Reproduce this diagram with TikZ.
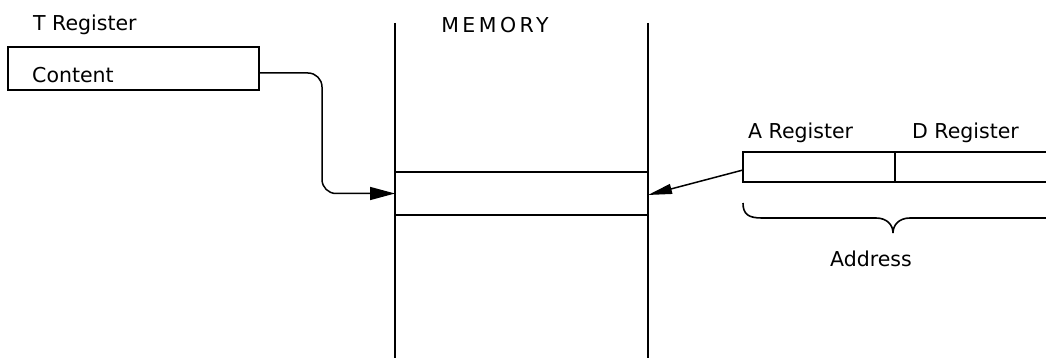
\documentclass[tikz,border=0pt]{standalone}
\usepackage{fontspec}
\setmainfont{DejaVu Sans}
\usetikzlibrary{arrows.meta}
\tikzset{
  lbl/.style={inner sep=0pt, font=\fontsize{20.5}{24}\selectfont, anchor=base west},
  boxline/.style={line width=1.6pt},
  regbox/.style={boxline, draw, inner sep=0pt, outer sep=0pt, anchor=north west},
  conn/.style={line width=1.5pt},
}
\begin{document}
\begin{tikzpicture}[x=1pt,y=-1pt]
\useasboundingbox (0,0) rectangle (1046,358);
% T register
\node[lbl] (tlabel) at (33,31) {T Register};
\node[regbox, minimum width=251pt, minimum height=43pt] (tbox) at (8,47) {};
\node[lbl] (content) at (32,83) {Content};
% Memory
\node[lbl, anchor=base] (memlabel) at (495,33) {\addfontfeatures{LetterSpace=17}MEMORY};
\coordinate (mlt) at (395,23);
\coordinate (mlb) at (395,358);
\coordinate (mrt) at (648,23);
\coordinate (mrb) at (648,358);
\draw[boxline] (mlt) -- (mlb);
\draw[boxline] (mrt) -- (mrb);
\node[regbox, minimum width=253pt, minimum height=43pt] (cell) at (395,172) {};
% A / D registers
\node[lbl] (alabel) at (748,139) {A Register};
\node[lbl] (dlabel) at (912,139) {D Register};
\node[regbox, minimum width=152pt, minimum height=30pt] (areg) at (743,152) {};
\coordinate (dtr) at (1046,152);
\coordinate (dbr) at (1046,182);
\draw[boxline] (areg.north east) -- (dtr);
\draw[boxline] (areg.south east) -- (dbr);
% brace
\coordinate (bl) at (743,203);
\coordinate (bm) at (893,233);
\coordinate (br) at (1046,218);
\draw[boxline] (bl) .. controls (743,214) and (748,218) .. (762,218) -- (876,218)
  .. controls (887,218) and (893,225) .. (bm)
  .. controls (893,225) and (899,218) .. (910,218) -- (br);
\node[lbl, anchor=base] (addr) at (871,266) {Address};
% connectors
\draw[conn, rounded corners=14pt, -{Triangle[length=25pt,width=13pt]}]
  ([yshift=-4.5pt]tbox.east) -- ++(63,0) |- (cell.west);
\draw[conn, -{Triangle[length=24pt,width=10pt]}]
  ([yshift=-3pt]areg.west) -- ([yshift=-1.5pt]cell.east);
\end{tikzpicture}
\end{document}
